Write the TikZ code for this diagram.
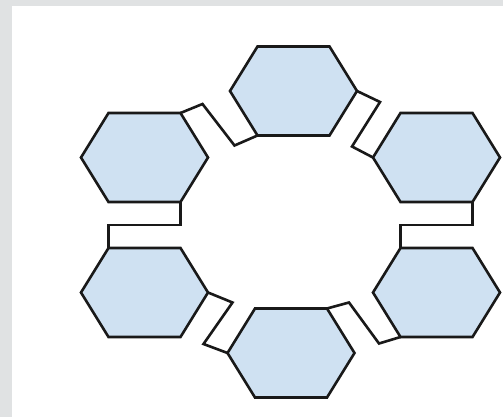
\documentclass[tikz,border=0pt]{standalone}
\usetikzlibrary{calc}
\definecolor{cellblue}{RGB}{207,225,242}
\definecolor{pagegray}{RGB}{224,226,227}
\newcommand{\hexcell}[3]{%
\path[hexcell] (#2-63.5,#3) coordinate (#1-w)
 -- ++(27.5,-44.5) coordinate (#1-nw)
 -- ++(72,0) coordinate (#1-ne)
 -- ++(27.5,44.5) coordinate (#1-e)
 -- ++(-27.5,44.5) coordinate (#1-se)
 -- ++(-72,0) coordinate (#1-sw)
 -- cycle;}

\begin{document}
\begin{tikzpicture}[x=1pt,y=-1pt,
  hexcell/.style={fill=cellblue,draw=black!90,line width=2.6pt},
  link/.style={draw=black!90,line width=2.6pt}]
\useasboundingbox (0,0) rectangle (503,417);
\fill[pagegray] (0,0) rectangle (503,417);
\fill[white] (12,6) rectangle (503,417);
\hexcell{topL}{144.5}{157.5}
\hexcell{top}{293.5}{91}
\hexcell{topR}{436.5}{157.5}
\hexcell{botL}{144.5}{292.5}
\hexcell{bot}{291}{353}
\hexcell{botR}{436.5}{292.5}
\draw[link] (topL-se) |- ($(topL-se)!.5!(botL-nw)$) -| (botL-nw);
\draw[link] (topR-se) |- ($(topR-se)!.5!(botR-nw)$) -| (botR-nw);
\draw[link] (topL-ne) -- ++(22,-9) -- ($(top-sw)+(-23,10)$) -- (top-sw);
\draw[link] (top-e) -- ++(23,11) -- ($(topR-w)+(-21,-11)$) -- (topR-w);
\draw[link] (botL-e) -- ++(24.5,10) -- ($(bot-w)+(-24,-9)$) -- (bot-w);
\draw[link] (bot-ne) -- ++(22,-6) -- ($(botR-sw)+(-21.5,6.5)$) -- (botR-sw);
\end{tikzpicture}
\end{document}
